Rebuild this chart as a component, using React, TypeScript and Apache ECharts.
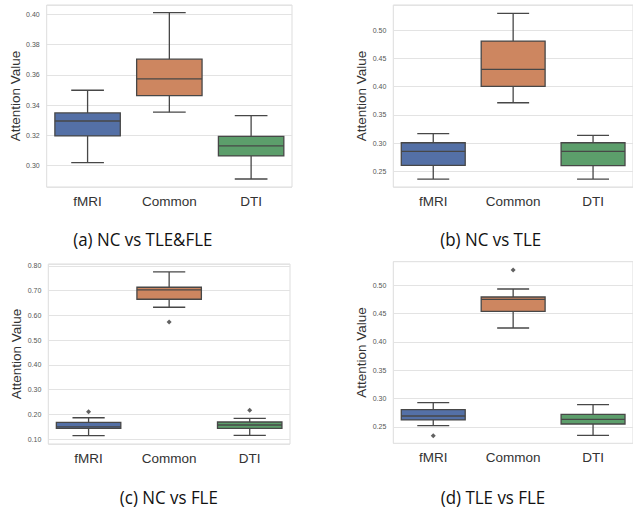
import React, { useEffect, useRef } from "react";
import * as echarts from "echarts";

const categories = ["fMRI", "Common", "DTI"];

// [low whisker, Q1, median, Q3, high whisker] per category
const statsA = [
  [0.302, 0.3196, 0.3295, 0.3348, 0.3498],
  [0.3353, 0.3462, 0.3573, 0.3703, 0.4011],
  [0.2912, 0.3064, 0.313, 0.3194, 0.333],
];
const statsB = [
  [0.2363, 0.2606, 0.2855, 0.3007, 0.3167],
  [0.3716, 0.4007, 0.4309, 0.481, 0.5301],
  [0.2363, 0.26, 0.2855, 0.3007, 0.3138],
];
const statsC = [
  [0.1134, 0.1433, 0.149, 0.1675, 0.186],
  [0.633, 0.6654, 0.703, 0.714, 0.7758],
  [0.115, 0.1433, 0.1567, 0.1688, 0.1838],
];
const statsD = [
  [0.2524, 0.2624, 0.2694, 0.2805, 0.2929],
  [0.4247, 0.4541, 0.4753, 0.4794, 0.4935],
  [0.2353, 0.2553, 0.2635, 0.2724, 0.2894],
];

// outliers: [category index, value]
const outliersA: number[][] = [];
const outliersB: number[][] = [];
const outliersC = [
  [0, 0.2105],
  [1, 0.5735],
  [2, 0.216],
];
const outliersD = [
  [0, 0.2347],
  [1, 0.527],
];

const yMinA = 0.2859, yMaxA = 0.4061, yStepA = 0.02;
const yMinB = 0.2222, yMaxB = 0.5449, yStepB = 0.05;
const yMinC = 0.0798, yMaxC = 0.808, yStepC = 0.1;
const yMinD = 0.2212, yMaxD = 0.5417, yStepD = 0.05;

const captions = ["(a) NC vs TLE&FLE", "(b) NC vs TLE", "(c) NC vs FLE", "(d) TLE vs FLE"];

const BOX_COLORS = ["#5470a6", "#cd8660", "#5c9e6b"];
const EDGE = "#474747";

function renderBox(params: any, api: any) {
  const idx = api.value(0);
  const low = api.coord([idx, api.value(1)]);
  const q1 = api.coord([idx, api.value(2)]);
  const med = api.coord([idx, api.value(3)]);
  const q3 = api.coord([idx, api.value(4)]);
  const high = api.coord([idx, api.value(5)]);
  const bw = api.size([1, 0])[0] * 0.8;
  const cx = low[0];
  const ls = { stroke: EDGE, lineWidth: 1.3, fill: "none" };
  return {
    type: "group",
    children: [
      { type: "line", shape: { x1: cx, y1: q3[1], x2: cx, y2: high[1] }, style: ls },
      { type: "line", shape: { x1: cx, y1: q1[1], x2: cx, y2: low[1] }, style: ls },
      { type: "line", shape: { x1: cx - bw / 4, y1: high[1], x2: cx + bw / 4, y2: high[1] }, style: ls },
      { type: "line", shape: { x1: cx - bw / 4, y1: low[1], x2: cx + bw / 4, y2: low[1] }, style: ls },
      {
        type: "rect",
        shape: { x: cx - bw / 2, y: q3[1], width: bw, height: q1[1] - q3[1] },
        style: { fill: BOX_COLORS[idx], stroke: EDGE, lineWidth: 1.3 },
      },
      { type: "line", shape: { x1: cx - bw / 2, y1: med[1], x2: cx + bw / 2, y2: med[1] }, style: ls },
    ],
  };
}

const grids = [
  { left: 46.7, top: 5, width: 245.3, height: 182 },
  { left: 393.3, top: 5, width: 245, height: 182 },
  { left: 48.3, top: 264, width: 241.7, height: 180 },
  { left: 393.3, top: 261.7, width: 245, height: 181.6 },
];

const panels = [
  { stats: statsA, outliers: outliersA, min: yMinA, max: yMaxA, step: yStepA },
  { stats: statsB, outliers: outliersB, min: yMinB, max: yMaxB, step: yStepB },
  { stats: statsC, outliers: outliersC, min: yMinC, max: yMaxC, step: yStepC },
  { stats: statsD, outliers: outliersD, min: yMinD, max: yMaxD, step: yStepD },
];

const captionPos = [
  [142.8, 238.4],
  [490.7, 238.4],
  [168.8, 496.5],
  [493, 496.5],
];

export default function App() {
  const ref = useRef<HTMLDivElement>(null);
  useEffect(() => {
    if (!ref.current) return;
    const chart = echarts.init(ref.current, null, { renderer: "svg" });
    const option: any = {
      animation: false,
      backgroundColor: "#ffffff",
      grid: grids.map((g) => ({
        ...g,
        show: true,
        borderColor: "#dddddd",
        borderWidth: 1,
        backgroundColor: "#ffffff",
      })),
      xAxis: panels.map((_, i) => ({
        type: "category",
        gridIndex: i,
        data: categories,
        boundaryGap: true,
        axisLine: { show: false },
        axisTick: { show: false },
        splitLine: { show: false },
        axisLabel: {
          fontSize: 13.5,
          color: "#333333",
          margin: 7,
          fontFamily: "Liberation Sans, Arial, sans-serif",
        },
      })),
      yAxis: panels.map((p, i) => ({
        type: "value",
        gridIndex: i,
        min: p.min,
        max: p.max,
        minInterval: p.step,
        maxInterval: p.step,
        name: "Attention Value",
        nameLocation: "middle",
        nameGap: 24,
        nameTextStyle: {
          fontSize: 13.5,
          color: "#333333",
          fontFamily: "Liberation Sans, Arial, sans-serif",
        },
        axisLine: { show: false },
        axisTick: { show: false },
        splitLine: { show: true, lineStyle: { color: "#e3e3e3", width: 1 } },
        axisLabel: {
          fontSize: 7,
          color: "#555555",
          margin: 7,
          showMinLabel: false,
          showMaxLabel: false,
          fontFamily: "Liberation Sans, Arial, sans-serif",
          formatter: (v: number) => v.toFixed(2),
        },
      })),
      series: [
        ...panels.map((p, i) => ({
          type: "custom",
          xAxisIndex: i,
          yAxisIndex: i,
          renderItem: renderBox,
          encode: { x: 0, y: [1, 2, 3, 4, 5] },
          data: p.stats.map((s, k) => [k, ...s]),
          z: 2,
        })),
        ...panels.map((p, i) => ({
          type: "scatter",
          xAxisIndex: i,
          yAxisIndex: i,
          symbol: "diamond",
          symbolSize: 5,
          itemStyle: { color: "#3a3a3a" },
          data: p.outliers,
          z: 3,
        })),
      ],
      graphic: captions.map((c, i) => ({
        type: "text",
        x: captionPos[i][0],
        y: captionPos[i][1],
        scaleX: 0.89,
        style: {
          text: c,
          font: '19px "Open Sans", sans-serif',
          fill: "#111111",
          textAlign: "center",
          textVerticalAlign: "middle",
        },
      })),
    };
    chart.setOption(option);
    return () => chart.dispose();
  }, []);
  return (
    <div
      ref={ref}
      style={{ position: "fixed", left: 0, top: 0, width: 633, height: 508 }}
    />
  );
}
